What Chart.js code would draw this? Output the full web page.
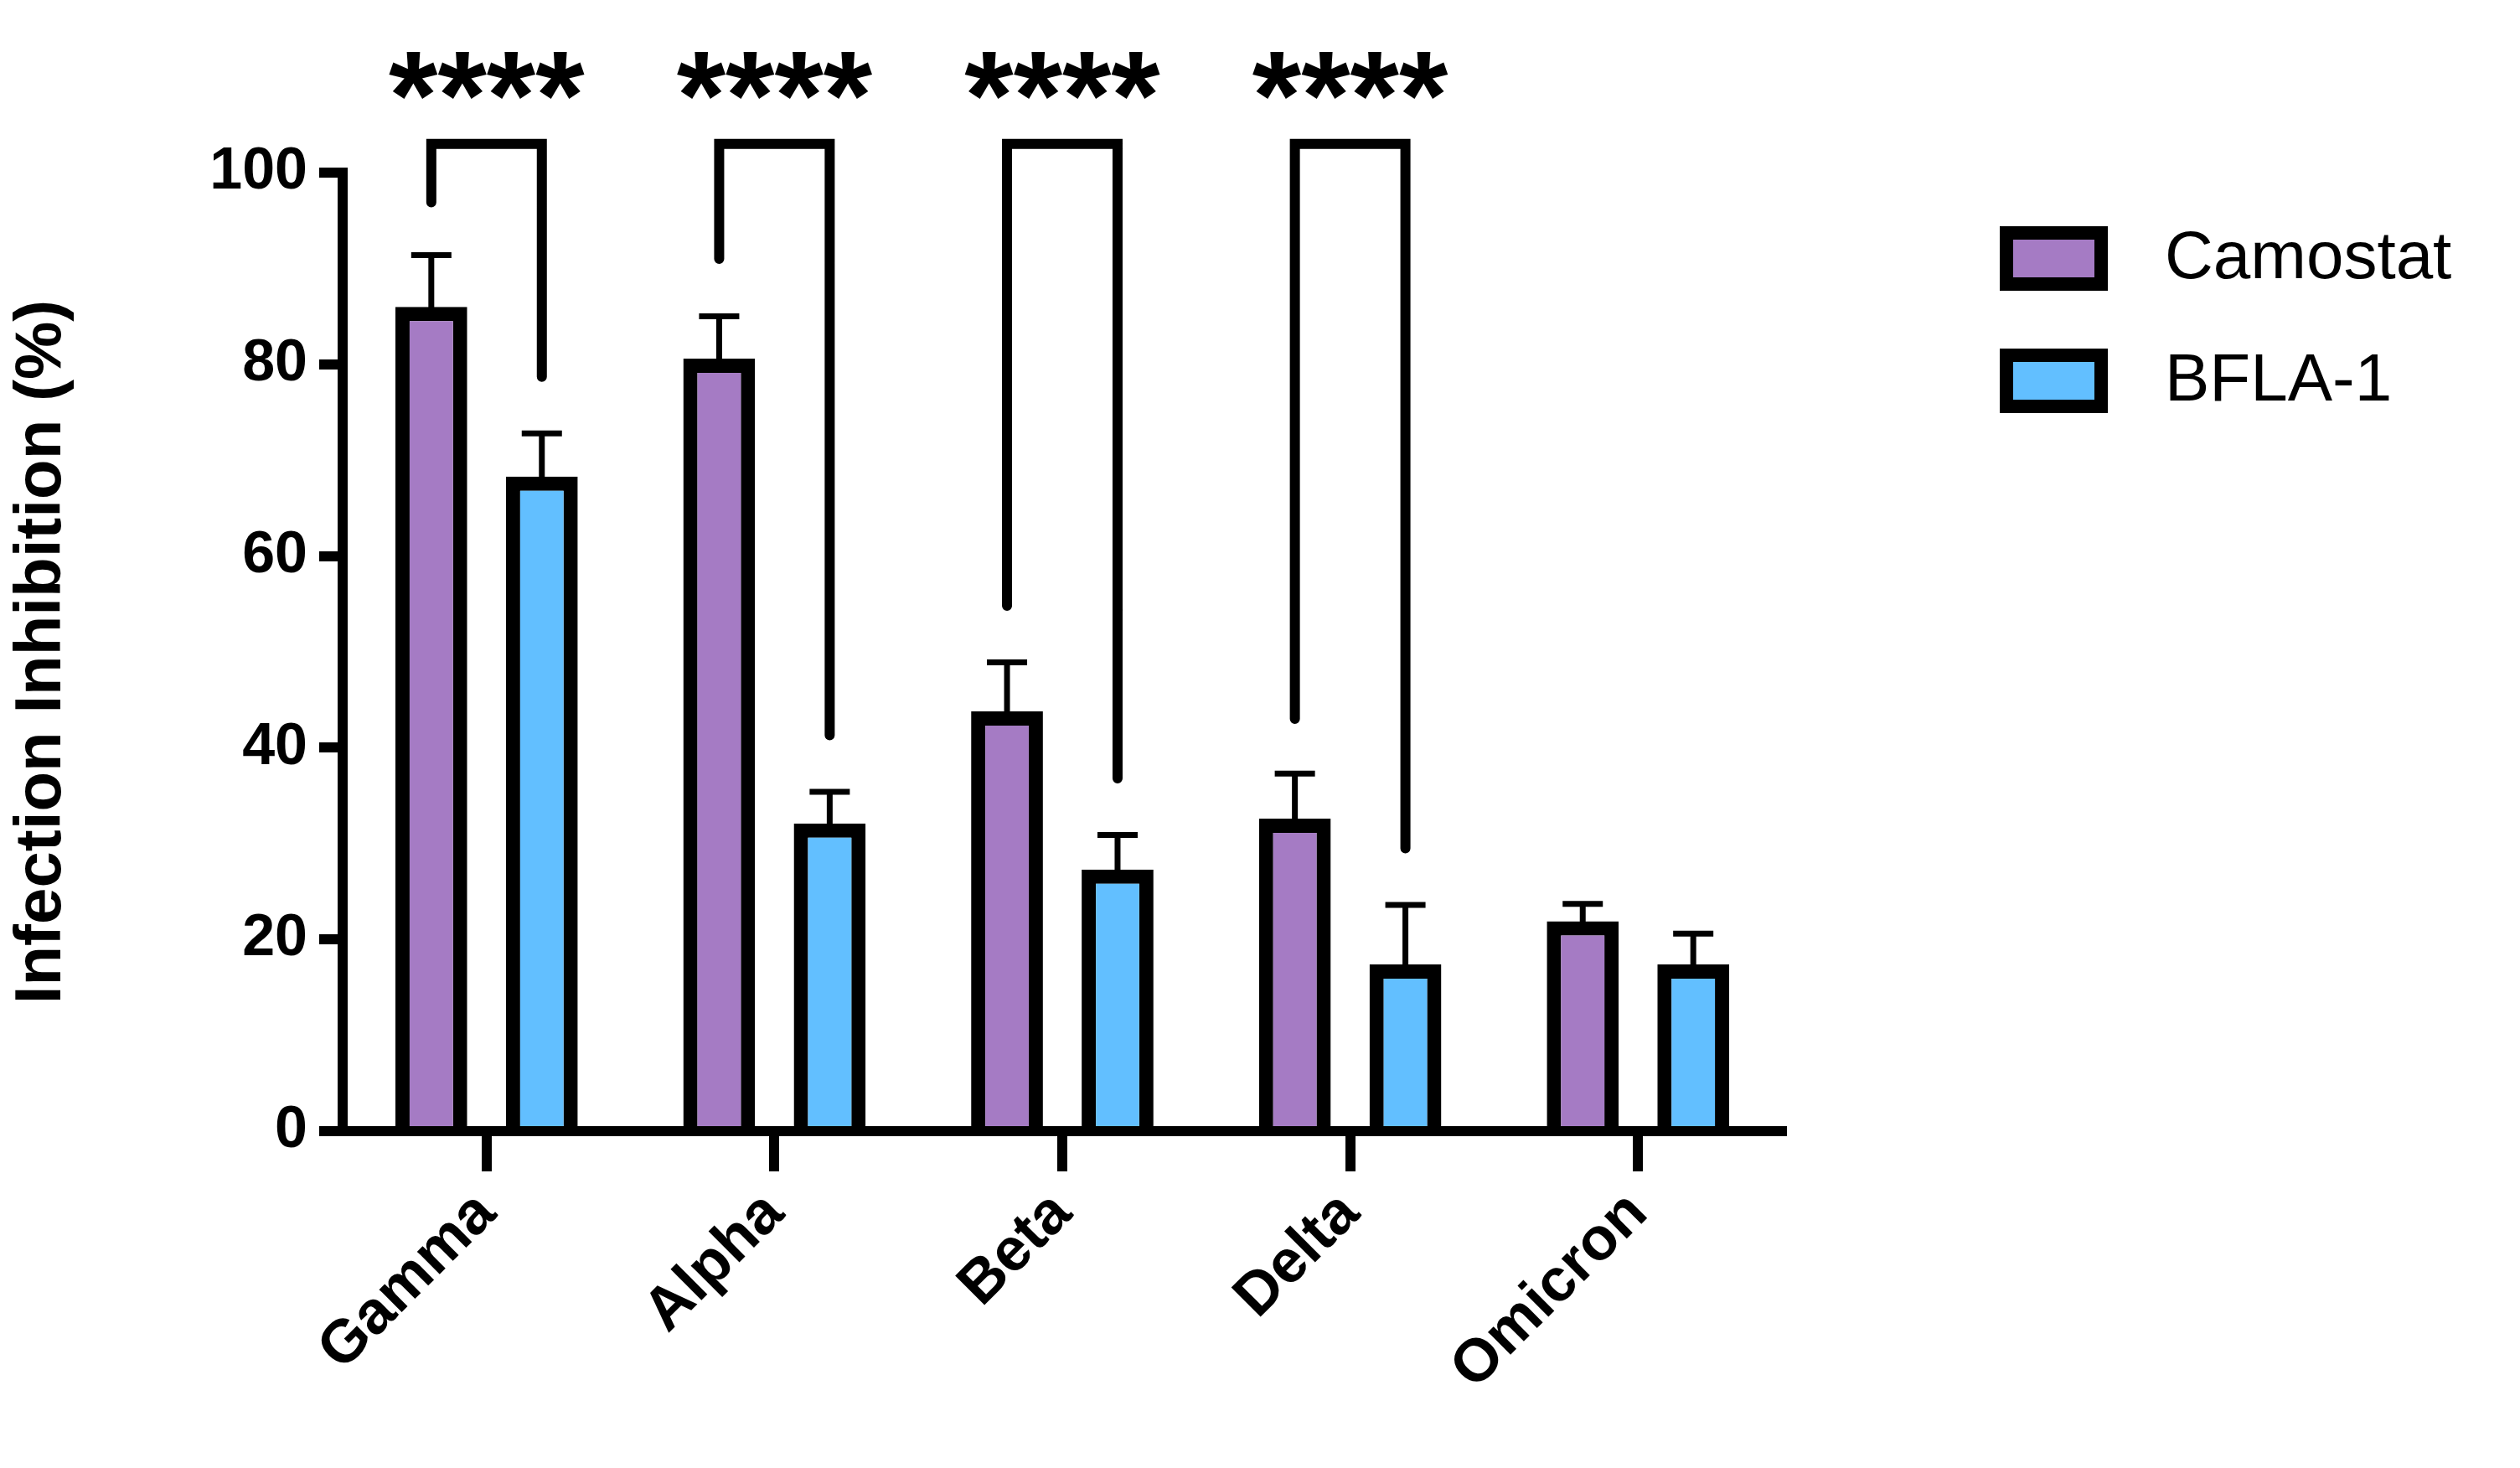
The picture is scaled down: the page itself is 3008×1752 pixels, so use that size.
<!DOCTYPE html>
<html><head><meta charset="utf-8">
<script src="https://cdn.jsdelivr.net/npm/chart.js@4"></script>
<style>html,body{margin:0;padding:0;background:#fff}#w{width:3008px;height:1752px}</style>
</head><body><div id="w"><canvas id="c"></canvas></div>
<script>
const categories = ["Gamma","Alpha","Beta","Delta","Omicron"];
const seriesNames = ["Camostat","BFLA-1"];
const camostat = [86.0, 80.6, 43.8, 32.6, 21.9];
const camostatErr = [91.4, 85.0, 48.9, 37.3, 23.7];
const bfla = [68.3, 32.1, 27.3, 17.4, 17.4];
const bflaErr = [72.8, 35.4, 30.9, 23.6, 20.6];
const yTicks = [0,20,40,60,80,100];
// significance brackets: [category index, top, left leg end, right leg end, label]
const sigTop = [103, 103, 103, 103];
const sigLeft = [96.9, 91.0, 54.8, 43.0];
const sigRight = [78.7, 41.3, 36.8, 29.5];
const sigLabels = ["****","****","****","****"];
const colors = ["#a57bc4","#62bfff"];
const FONT = '"Liberation Sans", Arial, sans-serif';

const overlay = {
  id:'overlay',
  afterDatasetsDraw(chart){
    const ctx = chart.ctx, y = chart.scales.y;
    const errs = [camostatErr, bflaErr];
    ctx.save();
    ctx.strokeStyle = '#000'; ctx.lineCap='butt';
    [0,1].forEach(d=>{
      const meta = chart.getDatasetMeta(d);
      meta.data.forEach((bar,i)=>{
        const top = bar.y + 8, ey = y.getPixelForValue(errs[d][i]);
        ctx.lineWidth = 7;
        ctx.beginPath(); ctx.moveTo(bar.x, top); ctx.lineTo(bar.x, ey); ctx.stroke();
        ctx.beginPath(); ctx.moveTo(bar.x-24, ey); ctx.lineTo(bar.x+24, ey); ctx.stroke();
      });
    });
    // brackets
    const m0 = chart.getDatasetMeta(0), m1 = chart.getDatasetMeta(1);
    ctx.lineWidth = 12; ctx.lineCap='round'; ctx.lineJoin='miter';
    sigLabels.forEach((lab,i)=>{
      const x0 = m0.data[i].x, x1 = m1.data[i].x;
      const yt = y.getPixelForValue(sigTop[i]);
      ctx.beginPath();
      ctx.moveTo(x0, y.getPixelForValue(sigLeft[i]));
      ctx.lineTo(x0, yt); ctx.lineTo(x1, yt);
      ctx.lineTo(x1, y.getPixelForValue(sigRight[i]));
      ctx.stroke();
      ctx.fillStyle='#000';
      ctx.font = 'bold 150px '+FONT;
      ctx.textAlign='center'; ctx.textBaseline='middle';
      ctx.fillText(lab, (x0+x1)/2, 125);
    });
    // legend
    ctx.font = '80px '+FONT; ctx.textAlign='left'; ctx.textBaseline='middle';
    seriesNames.forEach((n,i)=>{
      const by = 270 + i*146;
      ctx.fillStyle = colors[i];
      ctx.fillRect(2387, by, 129, 77);
      ctx.lineWidth = 16; ctx.lineCap='butt';
      ctx.strokeRect(2395, by+8, 113, 61);
      ctx.fillStyle='#000';
      ctx.fillText(n, 2584, by+40);
    });
    ctx.restore();
  }
};

new Chart(document.getElementById('c'), {
  type:'bar',
  data:{ labels: categories, datasets:[
    {label:seriesNames[0], data:camostat, backgroundColor:colors[0], borderColor:'#000', borderWidth:17, barPercentage:0.65, categoryPercentage:0.768},
    {label:seriesNames[1], data:bfla, backgroundColor:colors[1], borderColor:'#000', borderWidth:17, barPercentage:0.65, categoryPercentage:0.768}
  ]},
  options:{
    responsive:true, maintainAspectRatio:false, animation:false, devicePixelRatio:1,
    layout:{padding:{top:206, right:881, left:0, bottom:0}},
    plugins:{legend:{display:false}, tooltip:{enabled:false}},
    scales:{
      x:{
        grid:{drawOnChartArea:false, tickLength:48, lineWidth:12, color:'#000', offset:false},
        border:{color:'#000', width:12},
        ticks:{color:'#000', font:{family:FONT, weight:'bold', size:72}, maxRotation:45, minRotation:45, padding:8},
        afterFit(s){ s.height = 402; }
      },
      y:{
        min:0, max:100,
        afterBuildTicks(s){ s.ticks = yTicks.map(v=>({value:v})); },
        grid:{drawOnChartArea:false, tickLength:28, lineWidth:12, color:'#000'},
        border:{color:'#000', width:12},
        ticks:{color:'#000', font:{family:FONT, weight:'bold', size:70}, padding:14},
        title:{display:true, text:'Infection Inhibition (%)', color:'#000', font:{family:FONT, weight:'bold', size:78}},
        afterFit(s){ s.width = 409; }
      }
    }
  },
  plugins:[overlay]
});
</script></body></html>
